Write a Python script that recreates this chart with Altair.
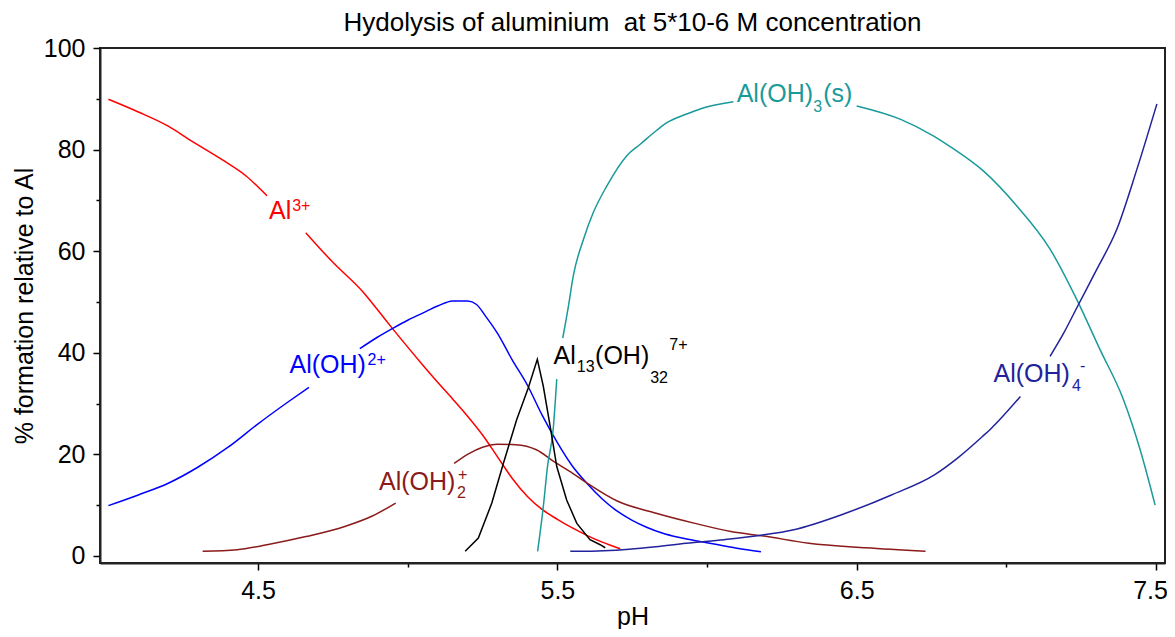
import altair as alt
import pandas as pd

# ---- data (pH, % formation); None marks a gap left for a label ----
al3_ph = [4.0, 4.1, 4.2, 4.28, 4.38, 4.46, 4.53, None, 4.66, 4.75, 4.85, 4.9, 4.95, 5.0, 5.05, 5.1, 5.15, 5.2, 5.25, 5.3, 5.35, 5.4, 5.45, 5.5, 5.55, 5.6, 5.65, 5.71]
al3_y = [89.9, 87.4, 84.6, 81.6, 78.0, 74.8, 70.9, None, 63.6, 57.8, 52.0, 48.4, 44.7, 41.1, 37.6, 34.2, 30.9, 27.5, 23.8, 19.5, 15.2, 11.7, 9.1, 7.2, 5.5, 4.0, 2.7, 1.4]

aloh_ph = [4.0, 4.1, 4.2, 4.3, 4.4, 4.5, 4.6, 4.67, None, 4.84, 4.9, 4.95, 5.0, 5.05, 5.1, 5.15, 5.2, 5.23, 5.26, 5.3, 5.35, 5.4, 5.45, 5.5, 5.55, 5.6, 5.65, 5.7, 5.75, 5.8, 5.85, 5.9, 6.0, 6.1, 6.18]
aloh_y = [9.9, 12.0, 14.3, 17.5, 21.4, 26.0, 30.3, 33.2, None, 40.8, 43.1, 44.8, 46.4, 47.8, 49.2, 50.2, 50.2, 49.5, 47.2, 43.8, 38.5, 33.6, 27.6, 22.3, 17.7, 14.2, 11.2, 8.8, 7.0, 5.6, 4.5, 3.7, 2.6, 1.5, 0.8]

aloh2_ph = [4.315, 4.43, 4.53, 4.66, 4.79, 4.88, 4.96, None, 5.155, 5.2, 5.25, 5.3, 5.36, 5.43, 5.49, 5.55, 5.6, 5.7, 5.83, 5.96, 6.08, 6.19, 6.34, 6.53, 6.73]
aloh2_y = [0.9, 1.2, 2.2, 3.8, 5.8, 7.8, 10.4, None, 18.2, 20.0, 21.4, 22.0, 21.9, 20.9, 18.5, 16.3, 14.3, 10.8, 8.4, 6.4, 4.8, 3.9, 2.5, 1.6, 0.9]

al13_ph = [5.192, 5.236, 5.281, 5.32, 5.364, 5.403, 5.433, 5.453, 5.476, 5.498, 5.531, 5.565, 5.609, 5.643, 5.66]
al13_y = [0.9, 3.5, 10.4, 18.3, 26.8, 33.1, 38.7, 33.4, 25.5, 17.6, 11.0, 6.4, 3.2, 2.2, 1.6]

aloh3_ph = [5.434, 5.453, 5.467, 5.486, 5.498, None, 5.518, 5.537, 5.553, 5.587, 5.62, 5.665, 5.732, 5.776, 5.832, 5.866, 5.932, 5.977, 6.088, None, 6.5, 6.645, 6.756, 6.812, 6.923, 7.035, 7.146, 7.235, 7.313, 7.391, 7.447, 7.497]
aloh3_y = [0.9, 9.7, 17.6, 24.9, 34.8, None, 42.9, 49.2, 55.1, 62.3, 67.6, 72.8, 78.8, 81.0, 83.8, 85.3, 87.0, 88.0, 89.4, None, 88.6, 86.0, 82.7, 80.6, 75.8, 68.9, 60.4, 50.5, 40.6, 30.8, 20.9, 10.0]

aloh4_ph = [5.543, 5.576, 5.74, 5.829, 5.93, 6.057, 6.185, 6.286, 6.463, 6.616, 6.761, 6.84, 6.92, 6.946, 7.047, None, 7.146, 7.191, 7.241, 7.302, 7.369, 7.436, 7.503]
aloh4_y = [0.9, 0.9, 1.3, 1.8, 2.5, 3.2, 4.1, 5.1, 8.4, 12.0, 16.0, 19.4, 23.5, 24.9, 31.4, None, 39.3, 43.8, 49.5, 56.4, 64.3, 76.1, 89.0]

series_names = ["Al3+", "Al(OH)2+", "Al(OH)2 +", "Al13", "Al(OH)3(s)", "Al(OH)4-"]
series_colors = ["#FF0000", "#0000FF", "#8B1A1A", "#000000", "#1A9A9A", "#22229C"]
series_data = [(al3_ph, al3_y), (aloh_ph, aloh_y), (aloh2_ph, aloh2_y),
               (al13_ph, al13_y), (aloh3_ph, aloh3_y), (aloh4_ph, aloh4_y)]

# label pieces: text, left pH, baseline %, font size, series
lab_text = ["Al", "3+", "Al(OH)", "2+", "Al(OH)", "2", "+",
            "Al", "13", "(OH)", "32", "7+",
            "Al(OH)", "3", "(s)", "Al(OH)", "4", "-"]
lab_x = [4.537, 4.614, 4.605, 4.866, 4.904, 5.165, 5.168,
         5.487, 5.565, 5.626, 5.81, 5.874,
         6.099, 6.355, 6.388, 6.957, 7.219, 7.246]
lab_y = [66.3, 67.9, 36.0, 37.5, 13.0, 11.4, 15.0,
         37.8, 36.3, 37.8, 34.1, 40.6,
         89.3, 87.4, 89.3, 34.2, 32.5, 36.4]
lab_size = [25, 16, 25, 16, 25, 16, 16,
            25, 16, 25, 16, 16,
            25, 16, 25, 25, 16, 16]
lab_series = ["Al3+", "Al3+", "Al(OH)2+", "Al(OH)2+", "Al(OH)2 +", "Al(OH)2 +", "Al(OH)2 +",
              "Al13", "Al13", "Al13", "Al13", "Al13",
              "Al(OH)3(s)", "Al(OH)3(s)", "Al(OH)3(s)", "Al(OH)4-", "Al(OH)4-", "Al(OH)4-"]

x_ticks = [4.5, 5.0, 5.5, 6.0, 6.5, 7.0, 7.5]
y_ticks = [0, 10, 20, 30, 40, 50, 60, 70, 80, 90, 100]

rows = []
for name, (xs, ys) in zip(series_names, series_data):
    seg = 0
    for i, (xv, yv) in enumerate(zip(xs, ys)):
        if xv is None:
            seg += 1
            continue
        rows.append({"series": name, "seg": f"{name}_{seg}", "pH": xv, "pct": yv, "idx": i})
lines_df = pd.DataFrame(rows)
labels_df = pd.DataFrame({"text": lab_text, "pH": lab_x, "pct": lab_y,
                          "fs": lab_size, "series": lab_series})

FONT = "Liberation Sans"
color_scale = alt.Scale(domain=series_names, range=series_colors)
x_scale = alt.Scale(domain=[3.972, 7.53], nice=False, zero=False)
y_scale = alt.Scale(domain=[-1.4, 100], nice=False, zero=False)

x_axis = alt.Axis(
    values=x_ticks, title="pH", titleFont=FONT, titleFontSize=25, titleFontWeight="normal",
    titleColor="black", titleX=532.5, titleY=61, titleBaseline="alphabetic",
    labelExpr="(datum.value * 2) % 2 == 1 ? datum.label : ''",
    labelFont=FONT, labelFontSize=25, labelColor="black", labelPadding=8,
    labelFlush=False, labelOverlap=False,
    labelOffset={"condition": {"test": "datum.value >= 7.5", "value": -6}, "value": 0},
    tickSize={"condition": {"test": "(datum.value * 2) % 2 == 1", "value": 7}, "value": 4},
    tickColor="black", tickWidth=1.5, domainColor="#222", domainWidth=2, grid=False,
)
y_axis = alt.Axis(
    values=y_ticks, title="% formation relative to Al", titleFont=FONT, titleFontSize=25,
    titleFontWeight="normal", titleColor="black", titleAngle=270, titleX=-68, titleY=257.5,
    titleAlign="center", titleBaseline="alphabetic",
    labelExpr="datum.value % 20 == 0 ? datum.label : ''",
    labelFont=FONT, labelFontSize=25, labelColor="black", labelPadding=8,
    labelFlush=False, labelOverlap=False,
    tickSize={"condition": {"test": "datum.value % 20 == 0", "value": 7}, "value": 4},
    tickColor="black", tickWidth=1.5, domainColor="#222", domainWidth=2, grid=False,
)

base_lines = alt.Chart(lines_df).encode(
    x=alt.X("pH:Q", scale=x_scale, axis=x_axis),
    y=alt.Y("pct:Q", scale=y_scale, axis=y_axis),
    color=alt.Color("series:N", scale=color_scale, legend=None),
    detail="seg:N",
    order="idx:Q",
)
smooth_lines = base_lines.mark_line(strokeWidth=1.5, clip=True, interpolate="monotone").transform_filter(
    alt.datum.series != "Al13")
sharp_lines = base_lines.mark_line(strokeWidth=1.5, clip=True).transform_filter(
    alt.datum.series == "Al13")

labels = alt.Chart(labels_df).mark_text(align="left", baseline="alphabetic", font=FONT).encode(
    x=alt.X("pH:Q", scale=x_scale),
    y=alt.Y("pct:Q", scale=y_scale),
    text="text:N",
    color=alt.Color("series:N", scale=color_scale, legend=None),
    size=alt.Size("fs:Q", scale=None),
)

chart = alt.layer(smooth_lines, sharp_lines, labels).properties(
    width=1065, height=515,
    title=alt.TitleParams("Hydolysis of aluminium\u00a0 at 5*10-6 M concentration",
                          font=FONT, fontSize=26, fontWeight="normal", color="black",
                          anchor="middle", offset=0),
    autosize=alt.AutoSizeParams(type="none"),
    padding={"left": 92, "top": 40, "right": 2, "bottom": 66},
    background="white",
).configure_view(stroke="#222", strokeWidth=2)

chart.save("out.html", embed_options={"renderer": "svg", "actions": False})
